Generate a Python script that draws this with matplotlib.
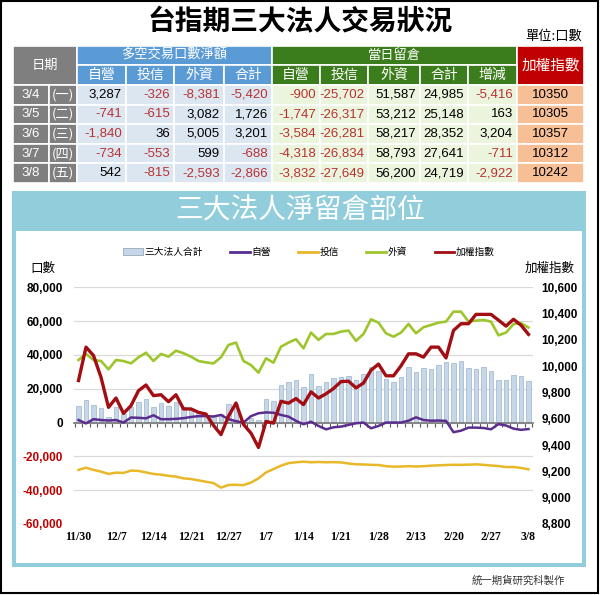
import numpy as np
import matplotlib
matplotlib.use("Agg")
import matplotlib.pyplot as plt
import matplotlib.transforms as mtransforms
from matplotlib.patches import Rectangle, Patch
from matplotlib.lines import Line2D

plt.rcParams['font.family'] = ['Noto Sans CJK TC', 'DejaVu Sans']
plt.rcParams['axes.unicode_minus'] = False

# ---- tabela (ultimos 5 dias) ----
dates = ['3/4', '3/5', '3/6', '3/7', '3/8']
weekdays = ['(一)', '(二)', '(三)', '(四)', '(五)']
net_dealer = [3287, -741, -1840, -734, 542]
net_trust = [-326, -615, 36, -553, -815]
net_foreign = [-8381, 3082, 5005, 599, -2593]
net_total = [-5420, 1726, 3201, -688, -2866]
oi_dealer_t = [-900, -1747, -3584, -4318, -3832]
oi_trust_t = [-25702, -26317, -26281, -26834, -27649]
oi_foreign_t = [51587, 53212, 58217, 58793, 56200]
oi_total_t = [24985, 25148, 28352, 27641, 24719]
oi_change = [-5416, 163, 3204, -711, -2922]
taiex_t = [10350, 10305, 10357, 10312, 10242]

# ---- grafico (11/30 ~ 3/8, 61 pregoes) ----
tick_labels = ['11/30', '12/7', '12/14', '12/21', '12/27', '1/7', '1/14',
               '1/21', '1/28', '2/13', '2/20', '2/27', '3/8']

oi_total = [9800, 13400, 10400, 8400, 3500, 9000, 5000, 9000, 12400, 13800,
            9400, 11800, 9800, 12400, 9000, 8000, 6000, 4500, 3000, 5000,
            11000, 11000, 0, 2500, 1500, 14000, 13000, 22000, 24000, 25000,
            20900, 28700, 21600, 24200, 26200, 26800, 27500, 25200, 28700, 33000,
            30700, 25600, 24200, 26800, 33000, 30100, 32100, 31500, 34000, 36000,
            35000, 36600, 32100, 31500, 33000, 30700, 24985, 25148, 28352, 27641,
            24719]
oi_dealer = [1500, -500, 2000, 1500, 1200, 1500, 0, 3000, 2800, 2500,
             4300, 2000, 2000, 2200, 2600, 3300, 3800, 3800, 3600, 4500,
             2000, 800, 0, 3800, 5500, 6000, 5800, 4500, 3500, 1000,
             -1000, 500, -2000, -4000, -2800, -2400, -1400, -400, 0, -3400,
             -2000, 0, 0, 0, 1100, 3100, 1500, 1100, 1200, 1000,
             -5700, -4800, -3000, -3000, -3200, -4000, -900, -1747, -3584, -4318,
             -3832]
oi_trust = [-28000, -26700, -28000, -29000, -30400, -29600, -29800, -28400, -28600, -29500,
            -30400, -30800, -31500, -32000, -33000, -33400, -34200, -35000, -35800, -38500,
            -36900, -36800, -37000, -35500, -33000, -29500, -27500, -25500, -24000, -23500,
            -23100, -23500, -23300, -23500, -23400, -23600, -24200, -24700, -24800, -25000,
            -25100, -25800, -26100, -26000, -25800, -26000, -25800, -25500, -25300, -25100,
            -25000, -25000, -24900, -24700, -25000, -25400, -25702, -26317, -26281, -26834,
            -27649]
oi_foreign = [37000, 40600, 37000, 36400, 31500, 37000, 36400, 35000, 38600, 41300,
              36400, 40600, 39000, 42500, 41000, 39000, 36400, 35600, 35000, 38600,
              45900, 47300, 36400, 34000, 29500, 38000, 35400, 44900, 47300, 49300,
              43900, 53200, 48900, 52400, 52400, 53800, 54400, 48300, 52400, 61100,
              59100, 52800, 50800, 53200, 58300, 52800, 56400, 57700, 59100, 59700,
              65600, 65600, 59700, 60300, 60700, 59700, 51587, 53212, 58217, 58793,
              56200]
taiex = [9891, 10145, 10081, 9916, 9687, 9758, 9641, 9700, 9814, 9857,
         9776, 9783, 9730, 9783, 9675, 9675, 9649, 9636, 9550, 9480,
         9620, 9720, 9557, 9491, 9382, 9580, 9567, 9733, 9719, 9754,
         9708, 9805, 9758, 9790, 9830, 9883, 9886, 9835, 9872, 9970,
         10016, 9927, 9927, 10003, 10094, 10094, 10069, 10145, 10145, 10063,
         10272, 10323, 10323, 10394, 10394, 10394, 10350, 10305, 10357, 10312,
         10242]

GRAY = '#7f7f7f'
BLUE = '#5b9bd5'
LBLUE = '#dce6f1'
GREEN = '#3b7d1c'
LGREEN = '#ebf5dd'
RED = '#c00000'
PEACH = '#f7bf95'
NEG = '#b83232'

fig = plt.figure(figsize=(6, 5.95), dpi=100)
bg = fig.add_axes([0, 0, 1, 1])
bg.set_xlim(0, 600)
bg.set_ylim(595, 0)
bg.axis('off')

bg.add_patch(Rectangle((1, 1), 597, 592, fill=False, ec='black', lw=1.5))
bg.text(300, 22, '台指期三大法人交易狀況', ha='center', va='center',
        fontsize=20, fontweight='bold')
bg.text(582, 36, '單位:口數', ha='right', va='center', fontsize=9.5)


def cell(x0, x1, y0, y1, color):
    bg.add_patch(Rectangle((x0, y0), x1 - x0, y1 - y0, fc=color, ec='white', lw=1.2))


col_x = [13, 49, 77, 126, 174, 224, 272, 320, 368, 420, 468, 517, 584]
h_top, h_mid, h_bot = 46, 65, 85
row_y = [85 + 19.6 * i for i in range(6)]

# cabecalho
cell(13, 77, h_top, h_bot, GRAY)
bg.text(45, (h_top + h_bot) / 2, '日期', color='white', ha='center', va='center', fontsize=9.5)
cell(77, 272, h_top, h_mid, BLUE)
bg.text(174.5, (h_top + h_mid) / 2, '多空交易口數淨額', color='white', ha='center', va='center', fontsize=9.5)
cell(272, 517, h_top, h_mid, GREEN)
bg.text(394.5, (h_top + h_mid) / 2, '當日留倉', color='white', ha='center', va='center', fontsize=9.5)
cell(517, 584, h_top, h_bot, RED)
bg.text(550.5, (h_top + h_bot) / 2, '加權指數', color='white', ha='center', va='center', fontsize=10.5)

sub_names = ['自營', '投信', '外資', '合計', '自營', '投信', '外資', '合計', '增減']
for k, name in enumerate(sub_names):
    x0, x1 = col_x[k + 2], col_x[k + 3]
    cell(x0, x1, h_mid, h_bot, BLUE if k < 4 else GREEN)
    bg.text((x0 + x1) / 2, (h_mid + h_bot) / 2, name, color='white',
            ha='center', va='center', fontsize=10)

columns = [net_dealer, net_trust, net_foreign, net_total,
           oi_dealer_t, oi_trust_t, oi_foreign_t, oi_total_t, oi_change]
for r in range(5):
    y0, y1 = row_y[r], row_y[r + 1]
    yc = (y0 + y1) / 2
    cell(13, 49, y0, y1, GRAY)
    cell(49, 77, y0, y1, GRAY)
    bg.text(31, yc, dates[r], color='white', ha='center', va='center',
            fontsize=9.5, family='Liberation Sans')
    bg.text(63, yc, weekdays[r], color='white', ha='center', va='center', fontsize=9.5)
    for k, col in enumerate(columns):
        x0, x1 = col_x[k + 2], col_x[k + 3]
        cell(x0, x1, y0, y1, LBLUE if k < 4 else LGREEN)
        v = col[r]
        bg.text(x1 - 4, yc, f'{v:,}', color=NEG if v < 0 else 'black',
                ha='right', va='center', fontsize=9.5, family='Liberation Sans')
    cell(517, 584, y0, y1, PEACH)
    bg.text(550.5, yc, str(taiex_t[r]), ha='center', va='center',
            fontsize=9.5, family='Liberation Sans')

# painel do grafico
bg.add_patch(Rectangle((12, 191), 574, 376, fc='#92cddc', ec='none'))
bg.add_patch(Rectangle((16, 231), 566, 332, fc='white', ec='none'))
bg.text(300, 211, '三大法人淨留倉部位', color='white', ha='center', va='center', fontsize=20)
bg.text(30, 268, '口數', ha='left', va='center', fontsize=9)
bg.text(575, 268, '加權指數', ha='right', va='center', fontsize=9)
bg.text(565, 581, '統一期貨研究科製作', ha='right', va='center', fontsize=7.5, color='#333333')

ax = fig.add_axes([74 / 600, 1 - 524 / 595, (533 - 74) / 600, (524 - 287.3) / 595])
ax.set_facecolor('none')
x = np.arange(len(taiex))

c_dealer = '#5b2d8e'
c_trust = '#e8b828'
c_foreign = '#9dc62d'
c_taiex = '#a30e14'

ax.bar(x, oi_total, width=0.55, color='#c7d7ea', edgecolor='#9cb2cb', lw=0.5, zorder=2)
ax.plot(x, oi_trust, color=c_trust, lw=1.8, zorder=3)
ax.plot(x, oi_foreign, color=c_foreign, lw=1.9, zorder=3)
ax.plot(x, oi_dealer, color=c_dealer, lw=1.8, zorder=4)

ax.set_xlim(-0.6, len(taiex) - 0.4)
ax.set_ylim(-60000, 80000)
yt = np.arange(-60000, 80001, 20000)
ax.set_yticks(yt)
ax.set_yticklabels([f'{v:,}' for v in yt], family='Liberation Sans',
                   fontweight='bold', fontsize=8.5)
for lab, v in zip(ax.get_yticklabels(), yt):
    lab.set_color(RED if v < 0 else 'black')
ax.tick_params(axis='y', length=0, pad=8)
ax.yaxis.grid(True, color='#d9d9d9', lw=0.9)
ax.set_axisbelow(True)
ax.get_ygridlines()[0].set_visible(False)

for s in ['top', 'left', 'right']:
    ax.spines[s].set_visible(False)
ax.spines['bottom'].set_position(('data', 0))
ax.spines['bottom'].set_color('#808080')
ax.spines['bottom'].set_linewidth(1.3)
ax.set_xticks(np.arange(-0.5, len(taiex), 1))
ax.tick_params(axis='x', length=3, width=0.8, color='#555555', labelbottom=False)

trans = mtransforms.blended_transform_factory(ax.transData, ax.transAxes)
for i, lab in zip(range(0, len(taiex), 5), tick_labels):
    ax.text(i, -0.057, lab, transform=trans, ha='center', va='center',
            family='Liberation Serif', fontweight='bold', fontsize=8.5)

ax2 = ax.twinx()
ax2.plot(x, taiex, color=c_taiex, lw=2.4, zorder=5)
ax2.set_ylim(8800, 10600)
rt = np.arange(8800, 10601, 200)
ax2.set_yticks(rt)
ax2.set_yticklabels([f'{v:,}' for v in rt], family='Liberation Sans',
                    fontweight='bold', fontsize=8.5)
ax2.tick_params(axis='y', length=0, pad=6)
for s in ax2.spines.values():
    s.set_visible(False)

handles = [Patch(fc='#c7d7ea', ec='#9aa8b5', lw=0.6),
           Line2D([], [], color=c_dealer, lw=2),
           Line2D([], [], color=c_trust, lw=2),
           Line2D([], [], color=c_foreign, lw=2),
           Line2D([], [], color=c_taiex, lw=2)]
labels = ['三大法人合計', '自營', '投信', '外資', '加權指數']
fig.legend(handles, labels, loc='center', bbox_to_anchor=(309 / 600, 1 - 252 / 595),
           ncol=5, frameon=False, fontsize=7, handlelength=2.0,
           handletextpad=0.2, columnspacing=2.8)

fig.savefig('out.png', dpi=100)
